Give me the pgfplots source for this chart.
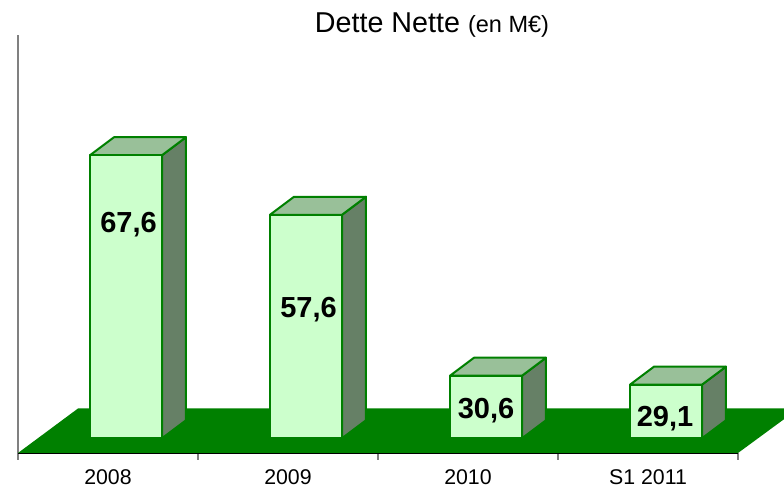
\documentclass[border=0pt]{standalone}
\usepackage{pgfplots}
\usepackage{fontspec}
\setmainfont{Liberation Sans}
\pgfplotsset{compat=1.18}
\definecolor{face}{HTML}{CCFFCC}
\definecolor{topf}{HTML}{99C099}
\definecolor{sidef}{HTML}{668066}
\definecolor{edge}{HTML}{008000}
\begin{document}
\begin{tikzpicture}[x=1pt,y=1pt]
\useasboundingbox (0,0) rectangle (784,489);
\begin{axis}[
  at={(18pt,36pt)}, anchor=south west,
  scale only axis, width=720pt, height=418pt,
  xmin=0, xmax=4, ymin=17.63, ymax=87.77,
  clip=false,
  axis x line=bottom, axis y line=left,
  x axis line style={black,line width=1.2pt,-},
  y axis line style={gray,line width=1.4pt,-},
  ytick=\empty,
  xtick={0.5,1.5,2.5,3.5},
  xticklabels={2008,2009,2010,S1 2011},
  major x tick style={draw=none},
  minor xtick={0,1,2,3,4},
  minor tick length=7pt,
  minor x tick style={gray,line width=1.2pt},
  xtick align=outside,
  x tick label style={font=\fontsize{21.3}{24}\selectfont, yshift=-6pt, anchor=north},
  major tick length=7pt,
  every axis plot/.append style={line join=round},
]
% floor
\addplot[fill=edge,draw=none] coordinates {(0,17.63) (4,17.63) (4.2556,23.3) (4.2556,25.1) (0.3333,25.1)} --cycle;
% 2008
\addplot[fill=sidef,draw=edge,line width=2pt] coordinates {(0.8,20.1) (0.9333,23.12) (0.9333,70.62) (0.8,67.6)} --cycle;
\addplot[fill=topf,draw=edge,line width=2pt] coordinates {(0.4,67.6) (0.5333,70.62) (0.9333,70.62) (0.8,67.6)} --cycle;
\addplot[fill=face,draw=edge,line width=2pt] coordinates {(0.4,20.1) (0.4,67.6) (0.8,67.6) (0.8,20.1)} --cycle;
% 2009
\addplot[fill=sidef,draw=edge,line width=2pt] coordinates {(1.8,20.1) (1.9333,23.12) (1.9333,60.62) (1.8,57.6)} --cycle;
\addplot[fill=topf,draw=edge,line width=2pt] coordinates {(1.4,57.6) (1.5333,60.62) (1.9333,60.62) (1.8,57.6)} --cycle;
\addplot[fill=face,draw=edge,line width=2pt] coordinates {(1.4,20.1) (1.4,57.6) (1.8,57.6) (1.8,20.1)} --cycle;
% 2010
\addplot[fill=sidef,draw=edge,line width=2pt] coordinates {(2.8,20.1) (2.9333,23.12) (2.9333,33.62) (2.8,30.6)} --cycle;
\addplot[fill=topf,draw=edge,line width=2pt] coordinates {(2.4,30.6) (2.5333,33.62) (2.9333,33.62) (2.8,30.6)} --cycle;
\addplot[fill=face,draw=edge,line width=2pt] coordinates {(2.4,20.1) (2.4,30.6) (2.8,30.6) (2.8,20.1)} --cycle;
% S1 2011
\addplot[fill=sidef,draw=edge,line width=2pt] coordinates {(3.8,20.1) (3.9333,23.12) (3.9333,32.12) (3.8,29.1)} --cycle;
\addplot[fill=topf,draw=edge,line width=2pt] coordinates {(3.4,29.1) (3.5333,32.12) (3.9333,32.12) (3.8,29.1)} --cycle;
\addplot[fill=face,draw=edge,line width=2pt] coordinates {(3.4,20.1) (3.4,29.1) (3.8,29.1) (3.8,20.1)} --cycle;
\end{axis}
\begin{scope}[every node/.style={font=\fontsize{29}{30}\selectfont\bfseries, text=black, inner sep=0pt}]
\node at (128.5,489-225) {67,6};
\node at (308.5,489-310) {57,6};
\node at (486,489-411) {30,6};
\node at (665,489-419) {29,1};
\end{scope}
\node[inner sep=0pt, anchor=base] at (432,489-33) {\fontsize{28.7}{30}\selectfont Dette Nette \fontsize{23.5}{24}\selectfont (en M€)};
\end{tikzpicture}
\end{document}
